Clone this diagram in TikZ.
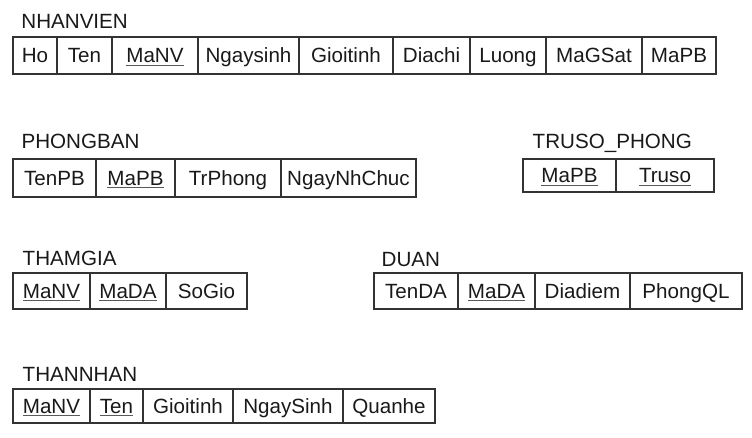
\documentclass[tikz,border=0pt]{standalone}
\usepackage{fontspec}
\setmainfont{Liberation Sans}
\begin{document}
\newlength\keywd
% underlined key attribute
\newcommand\keyattr[1]{\settowidth\keywd{#1}\makebox[0pt][l]{\color{black!65}\rule[-2.8pt]{\keywd}{1.1pt}}#1}
% one attribute cell: name, left x, right x, top y, bottom y, text
\newcommand\attrcell[6]{%
  \node[cellbox, minimum width={(#3)-(#2)}, minimum height={(#5)-(#4)}]
    (#1) at ({((#2)+(#3))/2},{((#4)+(#5))/2}) {#6};}
\begin{tikzpicture}[x=1pt,y=-1pt,
  every node/.style={font=\fontsize{20.6}{24}\selectfont, text=black!90},
  cellbox/.style={draw=black!80, line width=1.1pt, rectangle, inner sep=0pt,
    text height=14.75pt, text depth=0pt, align=center},
  relname/.style={anchor=base west, inner sep=0pt}]
\useasboundingbox (0,0) rectangle (752,438);

% NHANVIEN
\node[relname] (nvname) at (21.2,29) {NHANVIEN};
\attrcell{nv1}{13}{57}{37}{74}{Ho}
\attrcell{nv2}{57}{112}{37}{74}{Ten}
\attrcell{nv3}{112}{198}{37}{74}{\keyattr{MaNV}}
\attrcell{nv4}{198}{299}{37}{74}{Ngaysinh}
\attrcell{nv5}{299}{393}{37}{74}{Gioitinh}
\attrcell{nv6}{393}{470}{37}{74}{Diachi}
\attrcell{nv7}{470}{546}{37}{74}{Luong}
\attrcell{nv8}{546}{642}{37}{74}{MaGSat}
\attrcell{nv9}{642}{716}{37}{74}{MaPB}

% PHONGBAN
\node[relname] (pbname) at (21.4,149) {PHONGBAN};
\attrcell{pb1}{13}{96}{159}{197}{TenPB}
\attrcell{pb2}{96}{175}{159}{197}{\keyattr{MaPB}}
\attrcell{pb3}{175}{281}{159}{197}{TrPhong}
\attrcell{pb4}{281}{416}{159}{197}{NgayNhChuc}

% TRUSO_PHONG
\node[relname] (tsname) at (532.5,149) {TRUSO\_PHONG};
\attrcell{ts1}{523}{616}{159}{192}{\keyattr{MaPB}}
\attrcell{ts2}{616}{714}{159}{192}{\keyattr{Truso}}

% THAMGIA
\node[relname] (tgname) at (22.5,266) {THAMGIA};
\attrcell{tg1}{13}{90}{273}{309}{\keyattr{MaNV}}
\attrcell{tg2}{90}{166}{273}{309}{\keyattr{MaDA}}
\attrcell{tg3}{166}{247}{273}{309}{SoGio}

% DUAN
\node[relname] (daname) at (381.5,267) {DUAN};
\attrcell{da1}{374}{458}{273}{309}{TenDA}
\attrcell{da2}{458}{535}{273}{309}{\keyattr{MaDA}}
\attrcell{da3}{535}{630}{273}{309}{Diadiem}
\attrcell{da4}{630}{742}{273}{309}{PhongQL}

% THANNHAN
\node[relname] (tnname) at (22.5,381) {THANNHAN};
\attrcell{tn1}{13}{90}{389}{423}{\keyattr{MaNV}}
\attrcell{tn2}{90}{143}{389}{423}{\keyattr{Ten}}
\attrcell{tn3}{143}{233}{389}{423}{Gioitinh}
\attrcell{tn4}{233}{343}{389}{423}{NgaySinh}
\attrcell{tn5}{343}{435}{389}{423}{Quanhe}
\end{tikzpicture}
\end{document}
